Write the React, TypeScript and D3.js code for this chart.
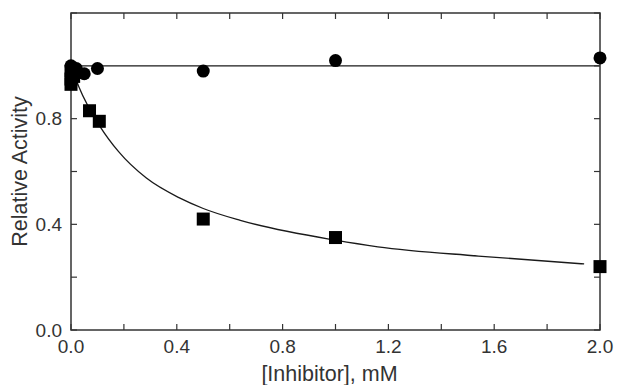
import * as d3 from "d3";

// inhibitor concentration (mM) vs relative activity
const circleX = [0, 0.01, 0.02, 0.05, 0.1, 0.5, 1.0, 2.0];
const circleY = [1.0, 0.97, 0.99, 0.97, 0.99, 0.98, 1.02, 1.03];

const squareX = [0, 0, 0, 0.01, 0.07, 0.107, 0.5, 1.0, 2.0];
const squareY = [0.98, 0.95, 0.93, 0.96, 0.83, 0.79, 0.42, 0.35, 0.24];

// fitted curves
const flatFitX = [0, 2.0];
const flatFitY = [1.0, 1.0];
const fitX = [0, 0.03, 0.11, 0.18, 0.285, 0.41, 0.5, 0.64, 1.0, 1.16, 1.54, 1.94];
const fitY = [1.0, 0.92, 0.77, 0.675, 0.575, 0.5, 0.46, 0.415, 0.34, 0.315, 0.28, 0.25];

const xTicks = [0, 0.2, 0.4, 0.6, 0.8, 1.0, 1.2, 1.4, 1.6, 1.8, 2.0];
const xLabels = [0, 0.4, 0.8, 1.2, 1.6, 2.0];
const yTicks = [0, 0.2, 0.4, 0.6, 0.8, 1.0, 1.2];
const yLabels = [0, 0.4, 0.8];

const width = 617;
const height = 385;
const margin = { top: 13, right: 17, bottom: 55, left: 71 };
const innerW = width - margin.left - margin.right;
const innerH = height - margin.top - margin.bottom;

const x = d3.scaleLinear().domain([0, 2]).range([0, innerW]);
const y = d3.scaleLinear().domain([0, 1.2]).range([innerH, 0]);

const INK = "#1a1a1a";
const FONT = "'Liberation Sans', Arial, sans-serif";
const TICK = 6;
const SQ = 13;
const R = 6.5;

export default function App() {
  const line = d3
    .line<number>()
    .x((_, i) => x(fitX[i]))
    .y((d) => y(d))
    .curve(d3.curveMonotoneX);
  const flat = d3
    .line<number>()
    .x((_, i) => x(flatFitX[i]))
    .y((d) => y(d));

  return (
    <div style={{ position: "fixed", left: 0, top: 0, background: "#fff" }}>
      <svg width={width} height={height} style={{ display: "block", fontFamily: FONT }}>
        <rect width={width} height={height} fill="#fff" />
        <g transform={`translate(${margin.left},${margin.top})`}>
          {/* fit curves */}
          <path d={flat(flatFitY) ?? ""} fill="none" stroke={INK} strokeWidth={1.3} />
          <path d={line(fitY) ?? ""} fill="none" stroke={INK} strokeWidth={1.3} />

          {/* frame */}
          <rect x={0} y={0} width={innerW} height={innerH} fill="none" stroke="#333" strokeWidth={1.5} />

          {/* x ticks, top and bottom, pointing inward */}
          {xTicks.map((t) => (
            <g key={`x${t}`}>
              <line x1={x(t)} x2={x(t)} y1={innerH} y2={innerH - TICK} stroke="#333" strokeWidth={1.2} />
              <line x1={x(t)} x2={x(t)} y1={0} y2={TICK} stroke="#333" strokeWidth={1.2} />
            </g>
          ))}
          {xLabels.map((t) => (
            <text key={`xl${t}`} x={x(t)} y={innerH + 23} textAnchor="middle" fontSize={19} fill="#333">
              {t.toFixed(1)}
            </text>
          ))}

          {/* y ticks, left and right */}
          {yTicks.map((t) => (
            <g key={`y${t}`}>
              <line x1={0} x2={TICK} y1={y(t)} y2={y(t)} stroke="#333" strokeWidth={1.2} />
              <line x1={innerW} x2={innerW - TICK} y1={y(t)} y2={y(t)} stroke="#333" strokeWidth={1.2} />
            </g>
          ))}
          {yLabels.map((t) => (
            <text key={`yl${t}`} x={-9} y={y(t)} dy="0.35em" textAnchor="end" fontSize={19} fill="#333">
              {t.toFixed(1)}
            </text>
          ))}

          {/* markers */}
          {circleX.map((cx, i) => (
            <circle key={`c${i}`} cx={x(cx)} cy={y(circleY[i])} r={R} fill="#000" />
          ))}
          {squareX.map((sx, i) => (
            <rect
              key={`s${i}`}
              x={x(sx) - SQ / 2}
              y={y(squareY[i]) - SQ / 2}
              width={SQ}
              height={SQ}
              fill="#000"
            />
          ))}
        </g>

        {/* axis titles */}
        <text x={margin.left + innerW / 2 - 6} y={381} textAnchor="middle" fontSize={21.5} fill="#333">
          [Inhibitor], mM
        </text>
        <text
          transform={`translate(27,${margin.top + innerH / 2}) rotate(-90)`}
          textAnchor="middle"
          fontSize={21.5}
          fill="#333"
        >
          Relative Activity
        </text>
      </svg>
    </div>
  );
}
